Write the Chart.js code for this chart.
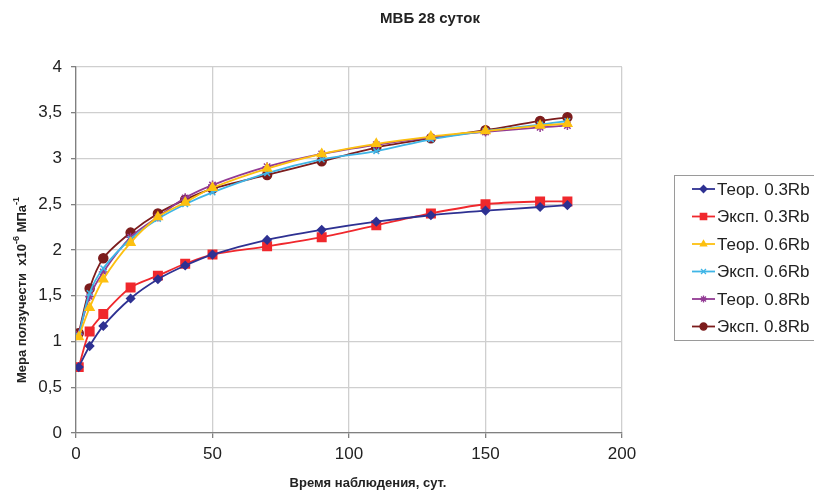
<!DOCTYPE html>
<html>
<head>
<meta charset="utf-8">
<script src="https://cdn.jsdelivr.net/npm/chart.js@4"></script>
<style>
  html, body { margin: 0; padding: 0; background: #fff; }
  #wrap { width: 814px; height: 493px; }
</style>
</head>
<body>
<div id="wrap"><canvas id="myChart" width="814" height="493"></canvas></div>
<script>
// время наблюдения, сут.
const days = [1, 5, 10, 20, 30, 40, 50, 70, 90, 110, 130, 150, 170, 180];

// мера ползучести, x10^-6 1/МПа
const teor03 = [0.72, 0.95, 1.17, 1.47, 1.68, 1.83, 1.95, 2.11, 2.22, 2.31, 2.38, 2.43, 2.47, 2.49];
const eksp03 = [0.72, 1.11, 1.30, 1.59, 1.72, 1.85, 1.95, 2.04, 2.14, 2.27, 2.40, 2.50, 2.53, 2.53];
const teor06 = [1.05, 1.37, 1.68, 2.08, 2.36, 2.52, 2.68, 2.89, 3.05, 3.16, 3.24, 3.30, 3.36, 3.38];
const eksp06 = [1.06, 1.53, 1.80, 2.12, 2.34, 2.50, 2.63, 2.84, 2.99, 3.08, 3.21, 3.30, 3.37, 3.41];
const teor08 = [1.08, 1.49, 1.76, 2.14, 2.36, 2.57, 2.71, 2.91, 3.05, 3.15, 3.23, 3.29, 3.34, 3.36];
const eksp08 = [1.09, 1.58, 1.91, 2.19, 2.40, 2.55, 2.67, 2.82, 2.97, 3.12, 3.22, 3.31, 3.41, 3.45];

const seriesNames = ['Теор. 0.3Rb', 'Эксп. 0.3Rb', 'Теор. 0.6Rb', 'Эксп. 0.6Rb', 'Теор. 0.8Rb', 'Эксп. 0.8Rb'];

// оси
const xMax = 200, xStep = 50;
const yMax = 4, yStep = 0.5;

const FONT = '"Liberation Sans", Arial, sans-serif';

function makeSet(label, values, color, pointStyle, radius) {
  return {
    label: label,
    data: days.map((d, i) => ({ x: d, y: values[i] })),
    borderColor: color,
    backgroundColor: color,
    pointBackgroundColor: color,
    pointBorderColor: color,
    pointStyle: pointStyle,
    pointRadius: radius,
    pointBorderWidth: 1.5,
    borderWidth: 1.8,
    tension: 0.3,
    fill: false
  };
}

const datasets = [
  makeSet(seriesNames[0], teor03, '#2e3192', 'rectRot', 4),
  makeSet(seriesNames[1], eksp03, '#f0282d', 'rect', 6),
  makeSet(seriesNames[2], teor06, '#fdc010', 'triangle', 5),
  makeSet(seriesNames[3], eksp06, '#3fb5e6', 'crossRot', 4),
  makeSet(seriesNames[4], teor08, '#923a94', 'star', 4.5),
  makeSet(seriesNames[5], eksp08, '#7c1c1c', 'circle', 4.5)
];

// заголовки и легенда рисуются вручную
const decorPlugin = {
  id: 'decor',
  afterDraw(chart) {
    const ctx = chart.ctx;
    ctx.save();

    // заголовок
    ctx.fillStyle = '#222';
    ctx.font = 'bold 15px ' + FONT;
    ctx.textAlign = 'center';
    ctx.textBaseline = 'middle';
    ctx.fillText('МВБ 28 суток', 430, 19);

    // подпись оси X
    ctx.font = 'bold 13px ' + FONT;
    ctx.fillText('Время наблюдения, сут.', 368, 483);

    // подпись оси Y с верхними индексами
    ctx.translate(22, 290);
    ctx.rotate(-Math.PI / 2);
    const parts = [
      ['Мера ползучести  x10', 13, 0],
      ['-6', 9, -5],
      [' МПа', 13, 0],
      ['-1', 9, -5]
    ];
    let total = 0;
    parts.forEach(p => { ctx.font = 'bold ' + p[1] + 'px ' + FONT; total += ctx.measureText(p[0]).width; });
    let x = -total / 2;
    ctx.textAlign = 'left';
    parts.forEach(p => {
      ctx.font = 'bold ' + p[1] + 'px ' + FONT;
      ctx.fillText(p[0], x, p[2]);
      x += ctx.measureText(p[0]).width;
    });
    ctx.setTransform(1, 0, 0, 1, 0, 0);

    // легенда
    const bx = 674.5, by = 175.5, bw = 150, bh = 165;
    ctx.strokeStyle = '#9a9a9a';
    ctx.lineWidth = 1;
    ctx.strokeRect(bx, by, bw, bh);
    ctx.font = '17px ' + FONT;
    ctx.textAlign = 'left';
    ctx.textBaseline = 'middle';
    chart.data.datasets.forEach((ds, i) => {
      const y = 189 + i * 27.5;
      ctx.strokeStyle = ds.borderColor;
      ctx.fillStyle = ds.borderColor;
      ctx.lineWidth = 1.8;
      ctx.beginPath();
      ctx.moveTo(692, y);
      ctx.lineTo(715, y);
      ctx.stroke();
      ctx.lineWidth = 1.3;
      Chart.helpers.drawPoint(ctx, {
        pointStyle: ds.pointStyle,
        radius: ds.pointStyle === 'rect' ? 4.5 : 3.5,
        rotation: 0,
        borderWidth: 1.3
      }, 703.5, y);
      ctx.fillStyle = '#222';
      ctx.fillText(ds.label, 717, y + 1);
    });

    ctx.restore();
  }
};

new Chart(document.getElementById('myChart').getContext('2d'), {
  type: 'line',
  data: { datasets: datasets },
  plugins: [decorPlugin],
  options: {
    responsive: false,
    animation: false,
    layout: { padding: { top: 67, right: 192, bottom: 0, left: 0 } },
    plugins: {
      legend: { display: false },
      title: { display: false },
      tooltip: { enabled: false }
    },
    scales: {
      x: {
        type: 'linear',
        min: 0,
        max: xMax,
        afterFit: s => { s.height = 60; },
        ticks: {
          stepSize: xStep,
          color: '#222',
          padding: 6,
          font: { family: FONT, size: 17 }
        },
        grid: { color: '#cfcfcf', lineWidth: 1.3, tickLength: 5, tickColor: '#808080' },
        border: { color: '#808080', width: 1.3 }
      },
      y: {
        min: 0,
        max: yMax,
        afterFit: s => { s.width = 76; },
        ticks: {
          stepSize: yStep,
          color: '#222',
          padding: 9,
          font: { family: FONT, size: 17 },
          callback: v => String(v).replace('.', ',')
        },
        grid: { color: '#cfcfcf', lineWidth: 1.3, tickLength: 5, tickColor: '#808080' },
        border: { color: '#808080', width: 1.3 }
      }
    }
  }
});
</script>
</body>
</html>
